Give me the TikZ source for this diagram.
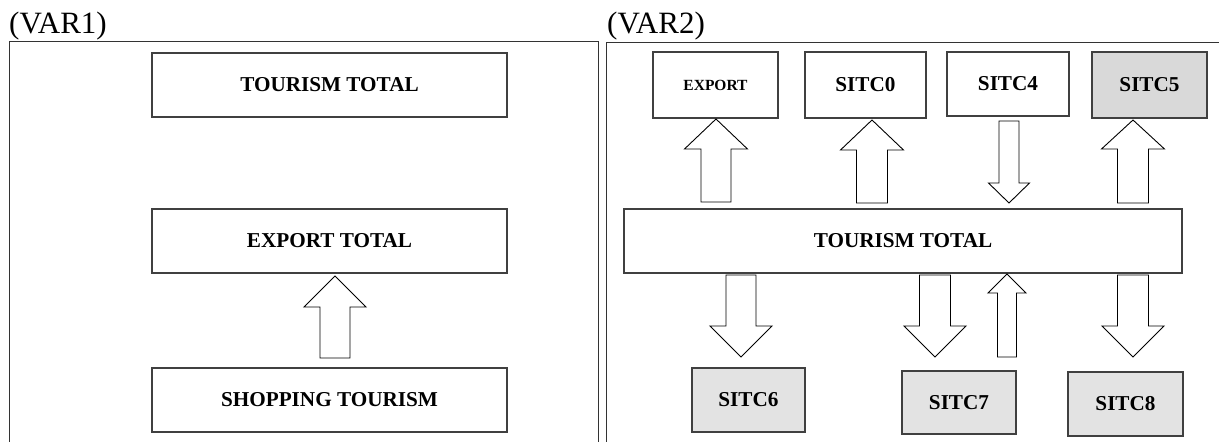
\documentclass[tikz,border=0pt]{standalone}
\usepackage{fontspec}
\setmainfont{Liberation Serif}
\usetikzlibrary{calc}

\tikzset{
  box/.style={draw=black!75, line width=1.1pt, fill=white, inner sep=0pt,
    font=\fontsize{21.2}{25}\selectfont\bfseries},
  shaded/.style={box, fill=black!15},
  shadedlt/.style={box, fill=black!11},
  panel/.style={draw=black!80, line width=1pt},
  blk/.style={draw=black, line width=0.9pt, fill=white, line join=miter},
  tag/.style={font=\fontsize{31}{34}\selectfont, inner sep=0pt, anchor=base west}
}

% open block arrow from #1 (tail) to #2 (tip);
% #3 shaft half width, #4 head half width, #5 head length
\newcommand{\blockarrow}[5]{%
  \coordinate (hb) at ($(#2)!#5!(#1)$);
  \draw[blk] ($(#1)!#3!90:(#2)$) -- ($(hb)!#3!90:(#2)$) -- ($(hb)!#4!90:(#2)$)
    -- (#2) -- ($(hb)!#4!-90:(#2)$) -- ($(hb)!#3!-90:(#2)$)
    -- ($(#1)!#3!-90:(#2)$) -- cycle;
}

\begin{document}
\begin{tikzpicture}[x=1pt, y=-1pt]
\useasboundingbox (0,0) rectangle (1219,442);
\clip (0,0) rectangle (1219,442);

% panel frames (open at the bottom)
\draw[panel] (9,460) -- (9,41.5) -- (598,41.5) -- (598,460);
\draw[panel] (606,460) -- (606,42) -- (1240,42);

\node[tag] (v1) at (9,33) {(VAR1)};
\node[tag] (v2) at (607,33) {(VAR2)};

% ---- VAR1 ----
\node[box, minimum width=355pt, minimum height=64pt] (tt1) at (329.5,85) {TOURISM TOTAL};
\node[box, minimum width=355pt, minimum height=64pt] (ex1) at (329.5,241) {EXPORT TOTAL};
\node[box, minimum width=355pt, minimum height=64pt] (sh1) at (329.5,400) {SHOPPING TOURISM};

\coordinate (a1s) at (335,358);
\coordinate (a1e) at (335,276);
\blockarrow{a1s}{a1e}{15pt}{31pt}{31pt}

% ---- VAR2 ----
\node[box, minimum width=125pt, minimum height=66pt,
      font=\fontsize{15.5}{18}\selectfont\bfseries] (exp) at (715.5,85) {EXPORT};
\node[box, minimum width=121pt, minimum height=66pt] (s0) at (865.5,85) {SITC0};
\node[box, minimum width=122pt, minimum height=64pt] (s4) at (1008,84) {SITC4};
\node[shaded, minimum width=115pt, minimum height=66pt] (s5) at (1149.5,85) {SITC5};

\node[box, minimum width=558pt, minimum height=64pt] (tt2) at (903,241) {TOURISM TOTAL};

\node[shadedlt, minimum width=113pt, minimum height=64pt] (s6) at (748.5,400) {SITC6};
\node[shadedlt, minimum width=114pt, minimum height=63pt] (s7) at (959,402.5) {SITC7};
\node[shadedlt, minimum width=115pt, minimum height=64pt] (s8) at (1125.5,404) {SITC8};

% arrows between the total and the groups
\coordinate (b1s) at (716,202);  \coordinate (b1e) at (716,119);
\coordinate (b2s) at (872,203);  \coordinate (b2e) at (872,120);
\coordinate (b3s) at (1009,121); \coordinate (b3e) at (1009,203);
\coordinate (b4s) at (1133,203); \coordinate (b4e) at (1133,120);
\blockarrow{b1s}{b1e}{15pt}{31.5pt}{30pt}
\blockarrow{b2s}{b2e}{15.5pt}{31.5pt}{30pt}
\blockarrow{b3s}{b3e}{10pt}{20.5pt}{20pt}
\blockarrow{b4s}{b4e}{15.5pt}{31.5pt}{29pt}

\coordinate (c1s) at (741,275);  \coordinate (c1e) at (741,357);
\coordinate (c2s) at (935,275);  \coordinate (c2e) at (935,357);
\coordinate (c3s) at (1007,357); \coordinate (c3e) at (1007,274);
\coordinate (c4s) at (1133,275); \coordinate (c4e) at (1133,357);
\blockarrow{c1s}{c1e}{15pt}{31pt}{31pt}
\blockarrow{c2s}{c2e}{15.5pt}{31pt}{31pt}
\blockarrow{c3s}{c3e}{9.5pt}{19pt}{19pt}
\blockarrow{c4s}{c4e}{15.5pt}{31pt}{31pt}
\end{tikzpicture}
\end{document}
